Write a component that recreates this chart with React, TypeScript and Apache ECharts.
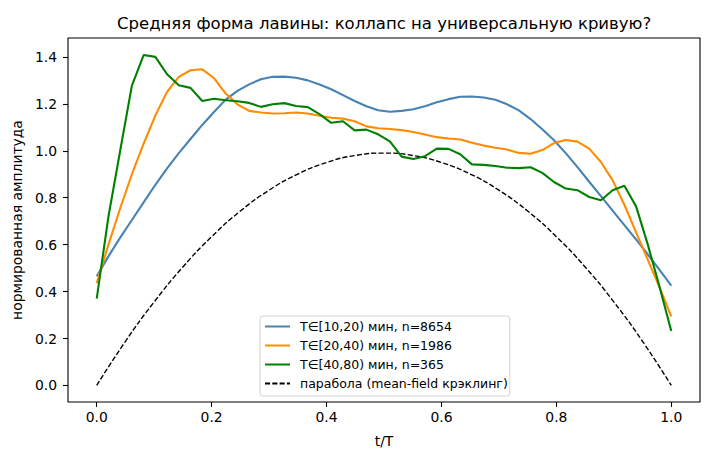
import React, { useEffect, useRef } from "react";
import * as echarts from "echarts";

const TITLE = "Средняя форма лавины: коллапс на универсальную кривую?";
const X_LABEL = "t/T";
const Y_LABEL = "нормированная амплитуда";
const NAMES = [
  "T∈[10,20) мин, n=8654",
  "T∈[20,40) мин, n=1986",
  "T∈[40,80) мин, n=365",
  "парабола (mean-field крэклинг)",
];
const COLORS = ["#4682b4", "#ff8c00", "#008000", "#000000"];
const X_TICKS = [0, 0.2, 0.4, 0.6, 0.8, 1.0];
const Y_TICKS = [0, 0.2, 0.4, 0.6, 0.8, 1.0, 1.2, 1.4];

const BLUE = [
  0.465, 0.55, 0.63, 0.705, 0.78, 0.855, 0.925, 0.99, 1.05, 1.11,
  1.165, 1.218, 1.255, 1.283, 1.305, 1.315, 1.316, 1.311, 1.3, 1.282,
  1.262, 1.237, 1.212, 1.19, 1.173, 1.166, 1.17, 1.177, 1.19, 1.207,
  1.22, 1.23, 1.231, 1.227, 1.217, 1.198, 1.172, 1.135, 1.092, 1.045,
  0.99, 0.93, 0.868, 0.807, 0.745, 0.683, 0.622, 0.558, 0.492, 0.425,
];
const ORANGE = [
  0.436, 0.6, 0.755, 0.9, 1.03, 1.15, 1.251, 1.315, 1.343, 1.347,
  1.31, 1.244, 1.198, 1.17, 1.163, 1.159, 1.16, 1.163, 1.159, 1.149,
  1.141, 1.137, 1.126, 1.104, 1.096, 1.093, 1.088, 1.08, 1.069, 1.058,
  1.052, 1.048, 1.034, 1.022, 1.013, 1.005, 0.991, 0.987, 1.003, 1.033,
  1.046, 1.039, 1.009, 0.952, 0.874, 0.77, 0.652, 0.535, 0.418, 0.294,
];
const GREEN = [
  0.37, 0.72, 1.0, 1.278, 1.408, 1.4, 1.326, 1.279, 1.268, 1.212,
  1.222, 1.215, 1.211, 1.204, 1.187, 1.198, 1.203, 1.191, 1.186, 1.156,
  1.119, 1.126, 1.087, 1.09, 1.07, 1.04, 0.975, 0.965, 0.977, 1.009,
  1.008, 0.985, 0.942, 0.94, 0.935, 0.928, 0.926, 0.93, 0.906, 0.867,
  0.839, 0.832, 0.803, 0.789, 0.832, 0.851, 0.763, 0.6, 0.42, 0.232,
];
const PARABOLA_T = [
  0, 0.05, 0.1, 0.15, 0.2, 0.25, 0.3, 0.35, 0.4, 0.45, 0.5,
  0.55, 0.6, 0.65, 0.7, 0.75, 0.8, 0.85, 0.9, 0.95, 1.0,
];
const PARABOLA = [
  0, 0.188, 0.356, 0.505, 0.634, 0.743, 0.832, 0.901, 0.95, 0.98, 0.99,
  0.98, 0.95, 0.901, 0.832, 0.743, 0.634, 0.505, 0.356, 0.188, 0,
];

const FONT = "DejaVu Sans";

function onGrid(values: number[]) {
  return values.map((v, i) => [i / (values.length - 1), v]);
}

export default function App() {
  const ref = useRef<HTMLDivElement>(null);
  useEffect(() => {
    if (!ref.current) return;
    const chart = echarts.init(ref.current, undefined, { renderer: "svg" });
    const lineSeries = [BLUE, ORANGE, GREEN].map((vals, k) => ({
      name: NAMES[k],
      type: "line",
      data: onGrid(vals),
      symbol: "none",
      lineStyle: { color: COLORS[k], width: 2.08 },
      itemStyle: { color: COLORS[k] },
      z: 3 + k,
    }));
    chart.setOption({
      animation: false,
      textStyle: { fontFamily: FONT },
      title: {
        text: TITLE,
        left: 117,
        top: 15,
        padding: 0,
        textStyle: { fontFamily: FONT, fontSize: 16.5, fontWeight: "normal", color: "#000" },
      },
      grid: {
        left: 68,
        right: 15,
        top: 38,
        bottom: 60,
        show: true,
        borderColor: "#000",
        borderWidth: 1.1,
        backgroundColor: "transparent",
      },
      legend: {
        orient: "vertical",
        left: 260,
        top: 316,
        itemWidth: 25,
        itemHeight: 14,
        itemGap: 4,
        padding: [3, 2, 5, 4],
        borderColor: "#d4d4d4",
        borderWidth: 1,
        borderRadius: 3,
        backgroundColor: "rgba(255,255,255,0.8)",
        itemStyle: { color: "transparent", borderWidth: 0, opacity: 0 },
        textStyle: { fontFamily: FONT, fontSize: 12.5, color: "#000", lineHeight: 15, padding: [0, 0, 0, 5] },
        data: NAMES,
      },
      xAxis: {
        type: "value",
        min: -0.05,
        max: 1.05,
        name: X_LABEL,
        nameLocation: "middle",
        nameGap: 32,
        nameTextStyle: { fontFamily: FONT, fontSize: 13.9, color: "#000" },
        axisLine: { show: false, onZero: false },
        splitLine: { show: false },
        axisTick: { show: true, length: 5, lineStyle: { color: "#000", width: 1.1 }, customValues: X_TICKS },
        axisLabel: {
          fontFamily: FONT,
          fontSize: 13.9,
          color: "#000",
          margin: 8,
          customValues: X_TICKS,
          formatter: (v: number) => v.toFixed(1),
        },
      },
      yAxis: {
        type: "value",
        min: -0.0705,
        max: 1.4805,
        name: Y_LABEL,
        nameLocation: "middle",
        nameRotate: 90,
        nameGap: 35,
        nameTextStyle: { fontFamily: FONT, fontSize: 13.9, color: "#000" },
        axisLine: { show: false, onZero: false },
        splitLine: { show: false },
        axisTick: { show: true, length: 5, lineStyle: { color: "#000", width: 1.1 }, customValues: Y_TICKS },
        axisLabel: {
          fontFamily: FONT,
          fontSize: 13.9,
          color: "#000",
          margin: 11,
          customValues: Y_TICKS,
          formatter: (v: number) => v.toFixed(1),
        },
      },
      series: [
        ...lineSeries,
        {
          name: NAMES[3],
          type: "line",
          data: PARABOLA_T.map((t, i) => [t, PARABOLA[i]]),
          symbol: "none",
          smooth: true,
          lineStyle: { color: "#000", width: 1.39, type: [5.1, 2.2] },
          itemStyle: { color: "#000" },
          z: 2,
        },
      ],
    });
    return () => chart.dispose();
  }, []);
  return (
    <div
      ref={ref}
      style={{ position: "fixed", left: 0, top: 0, width: 715, height: 462, background: "#fff" }}
    />
  );
}
